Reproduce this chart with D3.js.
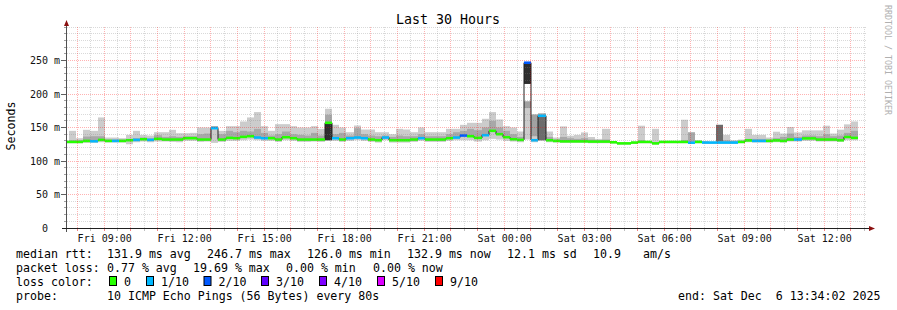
<!DOCTYPE html>
<html>
<head>
<meta charset="utf-8">
<script src="https://cdn.jsdelivr.net/npm/d3@7"></script>
<style>
  html, body { margin: 0; padding: 0; background: #fff; }
  svg { display: block; font-family: "DejaVu Sans Mono", monospace; }
</style>
</head>
<body>
<div id="chart"></div>
<script>
// loss colour legend (smokeping defaults)
const lossLabels = ["0", "1/10", "2/10", "3/10", "4/10", "5/10", "9/10"];
const lossColors = ["#26ff00", "#00b8ff", "#0059ff", "#5e00ff", "#7e00ff", "#dd00ff", "#ff0000"];

// one value per 16 minute RRA row, ms
const median = [
  128.5,128.5,128.5,130,129.5,131.5,130,130,130,131,
  131.5,132.5,131.5,133,132,132,132,134,134,132,
  132,149,132,134.5,134,136,137,135,134,134,
  132,135.5,134,132,132,132,132,157,134,132,
  134,135,134,132,131,135,131,131,131,132,
  134,132,132,132,134,135,138,137,134.5,138.5,
  145,140,135.5,132.5,131.5,246.7,131,167.5,131,130,
  129.3,129.3,129.3,129.3,129,129,129,128,126.3,126.3,
  127.5,128.5,128.5,126.3,128.5,128.5,128.5,128.5,127.3,128.5,
  127.5,127.5,127.5,127.5,127.5,128.5,130.7,130,130,130,
  130.7,130,132,132,133.7,133.7,132,132,132,131,
  135.8,134.5
];
// loss colour index per row
const lossLevel = [
  0,0,0,0,1,0,0,1,0,0,
  1,0,1,0,0,0,0,0,0,0,
  0,1,0,0,0,0,0,1,1,0,
  0,0,0,0,0,0,0,0,1,0,
  1,1,1,0,0,1,0,0,0,0,
  1,0,0,0,0,1,2,0,0,1,
  0,0,0,0,0,2,1,1,0,0,
  0,0,0,0,0,0,0,0,0,0,
  0,0,0,0,0,0,0,0,1,0,
  1,1,1,1,1,0,0,1,1,0,
  0,0,0,1,0,0,0,0,0,0,
  0,0
];
// smoke: lowest ping, upper inner band, highest ping
const pMin = [
  126.5,126.5,126.5,127,127,128,127.5,127.5,127.5,125,
  128,129,128,129,129,128.5,128,130,130,128.5,
  129,127,128.5,130,130,131,132,131,130,130,
  128.5,131,130,128.5,128.5,129,128.5,130,130,128.5,
  130,131,130,128.5,127.5,131,127.5,127.5,127.5,128.5,
  130,128.5,128.5,128.5,130,131,131,131,129,131,
  133,132,130,129,128,132,128,130,128,127.5,
  127,127,127,127,126.5,126.5,126.5,126,124.5,124.5,
  125.5,126.5,126.5,124.5,126.5,126.5,126.5,126.5,125.5,126.5,
  125.5,125.5,125.5,125.5,125.5,126.5,128,127.5,127.5,127.5,
  128,127.5,129,129,130,130,129,129,129,128.5,
  131,131
];
const pHigh = [
  129,131,131,136.5,137,137,132,132,132,133,
  134,135,134,138.5,136,137,136,137,137,140,
  141,152,140,145,143,145,144,148,142,138,
  140,144,140,139,138,142,138,169,140,142,
  138,149,140,138,137,138,136,138,137,137,
  140,137,137,137,140,143,145,148,146,150,
  160,150,145,140,136,null,null,171,136,132,
  136,134,133,134,132,131,132,129,127,127,
  128.5,131,129.5,128,129.5,129.5,129.5,131,142.7,130,
  129,128.5,null,131,130,130,133,133,133,132,
  134,136,141,136,138,138,137,140,137,138,
  142,145
];
const pMax = [
  129.5,145,134,146.5,145,165,135,135,134,139,
  145,139,138,143,143,146.5,141.5,141.5,142,150,
  150,152,145,152,152,159,165,173,152,145,
  155,155,152,150,150,152,148,178,154,150,
  143,153,147,147,143,143,140,148,147,143,
  150,143,143,143,148,148,154,157,157,163,
  173,162,152,150,144,189,170,171,144,135,
  151.7,137.7,139,142.7,135.8,133,148,129,127,127.5,
  129,152.7,130,148,130,130,130,161.6,143,131,
  130,129,154,139,131,132,148,139,139,135,
  143.7,141,150.7,142.7,145.7,145.7,145.7,152.7,141,146.7,
  154.7,159
];
// rows where pings bunch up: [row, from ms, to ms, density]
const dense = [[37, 131, 157, 3], [65, 179, 189, 1], [65, 215, 246, 3], [66, 137, 169, 1], [67, 131, 166, 2], [92, 129, 154, 2]];

const yTicks = [0, 50, 100, 150, 200, 250];

const width = 897, height = 310;
const plot = {left: 66, right: 866, top: 27, bottom: 228};

const tStart = new Date(2025, 11, 5, 7, 34, 2),
      tEnd = new Date(2025, 11, 6, 13, 34, 2),
      rowStart = new Date(2025, 11, 5, 7, 25, 0),
      rowMinutes = 16;

const x = d3.scaleTime().domain([tStart, tEnd]).range([plot.left, plot.right]);
const y = d3.scaleLinear().domain([0, 300]).range([plot.bottom, plot.top]);
const crisp = v => Math.floor(v) + 0.5;
const densityColor = d3.scaleOrdinal().domain([1, 2, 3]).range(["#a2a2a2", "#6c6c6c", "#2e2e2e"]);

const svg = d3.select("#chart").append("svg")
    .attr("width", width).attr("height", height);

svg.append("clipPath").attr("id", "clip").append("rect")
    .attr("x", plot.left + 1).attr("y", plot.top)
    .attr("width", plot.right - plot.left - 1).attr("height", plot.bottom - plot.top);

const rows = median.map((m, i) => ({
    i, m,
    loss: lossLevel[i], lo: pMin[i], mid: pHigh[i], hi: pMax[i],
    x0: Math.round(x(d3.timeMinute.offset(rowStart, i * rowMinutes))),
    x1: Math.round(x(d3.timeMinute.offset(rowStart, (i + 1) * rowMinutes)))
}));

const g = svg.append("g").attr("clip-path", "url(#clip)");

// smoke, outer band
g.append("g").selectAll("rect").data(rows).join("rect")
    .attr("x", d => d.x0).attr("width", d => d.x1 - d.x0)
    .attr("y", d => y(d.hi)).attr("height", d => y(d.lo) - y(d.hi))
    .attr("fill", "#cccccc");

// smoke, inner band
g.append("g").selectAll("rect").data(rows.filter(d => d.mid != null)).join("rect")
    .attr("x", d => d.x0).attr("width", d => d.x1 - d.x0)
    .attr("y", d => y(d.mid)).attr("height", d => Math.max(0, y(d.m) - y(d.mid)))
    .attr("fill", "#a8a8a8");

// bunched pings
g.append("g").selectAll("rect").data(dense).join("rect")
    .attr("x", d => rows[d[0]].x0).attr("width", d => rows[d[0]].x1 - rows[d[0]].x0)
    .attr("y", d => y(d[2])).attr("height", d => y(d[1]) - y(d[2]))
    .attr("fill", d => densityColor(d[3]));

// median as a thin dark step line
const stepPts = rows.map(d => [d.x0, y(d.m)]);
stepPts.push([rows[rows.length - 1].x1, y(rows[rows.length - 1].m)]);
g.append("path")
    .attr("d", d3.line().curve(d3.curveStepAfter)(stepPts))
    .attr("fill", "none").attr("stroke", "#202020").attr("stroke-width", 1);

// median swath coloured by loss
g.append("g").selectAll("rect").data(rows).join("rect")
    .attr("x", d => d.x0).attr("width", d => d.x1 - d.x0)
    .attr("y", d => y(d.m + 1.9)).attr("height", d => y(d.m - 1.9) - y(d.m + 1.9))
    .attr("fill", d => lossColors[d.loss]);

// grid on top
const grid = svg.append("g").attr("fill", "none").attr("stroke-dasharray", "1,1");
const minorY = d3.range(10, 301, 10).filter(v => v % 50 !== 0 || v > 250);
const majorY = yTicks.filter(v => v > 0);
const minorColor = "rgba(128,128,128,0.3)", majorColor = "rgba(255,0,0,0.3)";
grid.selectAll("line.hmin").data(minorY).join("line")
    .attr("x1", plot.left + 1).attr("x2", plot.right)
    .attr("y1", d => crisp(y(d))).attr("y2", d => crisp(y(d)))
    .attr("stroke", minorColor);
const halfHours = d3.timeMinute.every(30).range(tStart, tEnd);
grid.selectAll("line.v").data(halfHours).join("line")
    .attr("x1", d => crisp(x(d))).attr("x2", d => crisp(x(d)))
    .attr("y1", plot.top).attr("y2", plot.bottom)
    .attr("stroke", d => d.getMinutes() === 0 ? majorColor : minorColor);
grid.selectAll("line.hmaj").data(majorY).join("line")
    .attr("x1", plot.left - 4).attr("x2", plot.right)
    .attr("y1", d => crisp(y(d))).attr("y2", d => crisp(y(d)))
    .attr("stroke", majorColor);

// axis ticks
svg.append("g").selectAll("line").data(halfHours).join("line")
    .attr("x1", d => crisp(x(d))).attr("x2", d => crisp(x(d)))
    .attr("y1", plot.bottom + 1).attr("y2", plot.bottom + 3)
    .attr("stroke", d => d.getMinutes() === 0 ? "#f08080" : "#c0c0c0");
svg.append("g").selectAll("line").data(majorY).join("line")
    .attr("x1", plot.left - 5).attr("x2", plot.left)
    .attr("y1", d => crisp(y(d))).attr("y2", d => crisp(y(d)))
    .attr("stroke", "#606060");
svg.append("g").selectAll("line").data(minorY).join("line")
    .attr("x1", plot.left - 2).attr("x2", plot.left)
    .attr("y1", d => crisp(y(d))).attr("y2", d => crisp(y(d)))
    .attr("stroke", "#a0a0a0");

// axes with arrows
svg.append("line").attr("x1", crisp(plot.left)).attr("x2", crisp(plot.left))
    .attr("y1", plot.bottom + 4).attr("y2", 22).attr("stroke", "#505050");
svg.append("line").attr("x1", plot.left - 4).attr("x2", 870)
    .attr("y1", crisp(plot.bottom)).attr("y2", crisp(plot.bottom)).attr("stroke", "#202020");
svg.append("path").attr("d", "M64,26 L69,26 L66.5,20 Z").attr("fill", "#8b1010");
svg.append("path").attr("d", "M869,226 L869,231 L875,228.5 Z").attr("fill", "#8b1010");

// y labels
svg.append("g").selectAll("text").data(yTicks).join("text")
    .attr("x", 60).attr("y", d => crisp(y(d))).attr("dy", "0.35em")
    .attr("text-anchor", "end").style("font-size", "10px").attr("fill", "#111")
    .text(d => d === 0 ? "0\u00a0\u00a0" : d + " m");

// x labels
svg.append("g").attr("transform", `translate(0,${plot.bottom})`)
    .call(d3.axisBottom(x).ticks(d3.timeHour.every(3)).tickFormat(d3.timeFormat("%a %H:%M"))
        .tickSize(0).tickPadding(6.5))
    .call(a => a.select(".domain").remove())
    .selectAll("text").style("font-size", "10px").style("font-family", "DejaVu Sans Mono").attr("fill", "#111");

// titles
svg.append("text").attr("x", 448).attr("y", 24).attr("text-anchor", "middle")
    .style("font-size", "13.3px").text("Last 30 Hours");
svg.append("text").attr("transform", "translate(15,126) rotate(-90)").attr("text-anchor", "middle")
    .style("font-size", "11.6px").text("Seconds");
svg.append("text").attr("transform", "translate(885,5) rotate(90)")
    .style("font-size", "8.3px").attr("fill", "#b0b0b0").text("RRDTOOL / TOBI OETIKER");

// legend
const legend = svg.append("g").style("font-size", "11.6px").attr("fill", "#000");
const legendText = [
  [16, 258, "median rtt:"], [107, 258, "131.9 ms avg"], [207, 258, "246.7 ms max"],
  [307, 258, "126.0 ms min"], [407, 258, "132.9 ms now"], [507, 258, "12.1 ms sd"],
  [593, 258, "10.9"], [643, 258, "am/s"],
  [16, 272, "packet loss:"], [107, 272, "0.77 % avg"], [193, 272, "19.69 % max"],
  [286, 272, "0.00 % min"], [373, 272, "0.00 % now"],
  [16, 286, "loss color:"],
  [16, 300, "probe:"], [107, 300, "10 ICMP Echo Pings (56 Bytes) every 80s"],
  [678, 300, "end: Sat Dec  6 13:34:02 2025"]
];
legend.selectAll("text").data(legendText).join("text")
    .attr("x", d => d[0]).attr("y", d => d[1]).attr("xml:space", "preserve")
    .style("white-space", "pre").text(d => d[2]);

const swatchX = [109, 146, 203.5, 261, 319, 377, 435];
const sw = legend.append("g").selectAll("g").data(lossLabels).join("g")
    .attr("transform", (d, i) => `translate(${swatchX[i]},0)`);
sw.append("rect").attr("x", 0.5).attr("y", 276.5).attr("width", 7).attr("height", 9)
    .attr("fill", (d, i) => lossColors[i]).attr("stroke", "#000");
sw.append("text").attr("x", 15).attr("y", 286).text(d => d);
</script>
</body>
</html>
